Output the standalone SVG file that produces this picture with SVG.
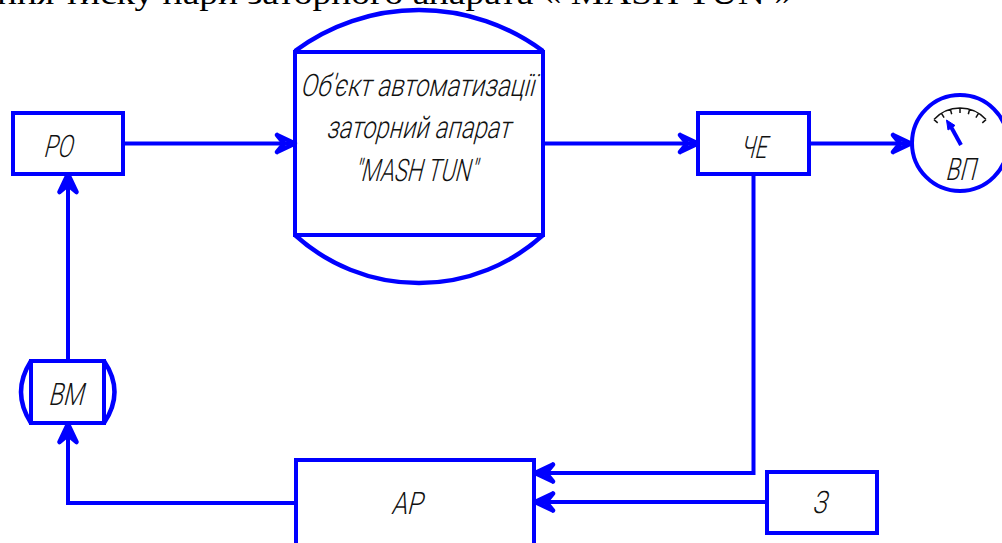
<svg xmlns="http://www.w3.org/2000/svg" width="1002" height="543" viewBox="0 0 1002 543">
<defs>
<marker id="arr" markerUnits="userSpaceOnUse" markerWidth="28" markerHeight="24" refX="20" refY="12" orient="auto" overflow="visible">
<path d="M2 3.500 L20 12 L2 20.500 M2 3.500 L9 12 L2 20.500" fill="none" stroke="#0000ff" stroke-width="4.500" stroke-linecap="round" stroke-linejoin="round"/>
</marker>
</defs>
<style>
.s{fill:#fff;stroke:#0000ff;stroke-width:4}
.a{fill:none;stroke:#0000ff;stroke-width:4.500}
.l{fill:none;stroke:#0000ff;stroke-width:4;marker-end:url(#arr)}
.t{font-family:Roboto,"Liberation Sans",sans-serif;font-weight:300;font-size:31px;fill:#111;text-anchor:start}
.h{font-family:"Liberation Serif",serif;font-size:32px;fill:#000}
</style>
<rect width="1002" height="543" fill="#fff"/>
<text class="h" x="-3" y="4" textLength="796" lengthAdjust="spacingAndGlyphs">ння тиску пари заторного апарата « MASH TUN »</text>
<g id="connectors">
<path class="l" d="M123 143.500H295"/>
<path class="l" d="M543 143.500H698"/>
<path class="l" d="M809 143.500H911"/>
<path class="l" d="M753.500 174V473H535"/>
<path class="l" d="M767 502H535"/>
<path class="l" d="M296 503H68V424"/>
<path class="l" d="M68 361V174"/>
</g>
<g id="node-ro"><rect class="s" x="13" y="113" width="110" height="61"/><text class="t" transform="translate(43 157) skewX(-14)" textLength="29" lengthAdjust="spacingAndGlyphs">РО</text></g>
<g id="node-object"><path class="a" d="M295 51A208 208 0 0 1 543 51M295 235A184 184 0 0 0 543 235"/><rect class="s" style="fill:none" x="295" y="52" width="248" height="183"/>
<text class="t" transform="translate(300 96) skewX(-14)" textLength="234" lengthAdjust="spacingAndGlyphs">Об'єкт автоматизації</text>
<text class="t" transform="translate(326 138) skewX(-14)" textLength="184" lengthAdjust="spacingAndGlyphs">заторний апарат</text>
<text class="t" transform="translate(354 181) skewX(-14)" textLength="122" lengthAdjust="spacingAndGlyphs">"MASH TUN"</text></g>
<g id="node-che"><rect class="s" x="698" y="113" width="111" height="61"/><text class="t" transform="translate(740 158) skewX(-14)" textLength="26" lengthAdjust="spacingAndGlyphs">ЧЕ</text></g>
<g id="node-vp"><circle class="s" cx="960" cy="143" r="48"/>
<path d="M934 119.600A35 35 0 0 1 986 119.600M934 119.600L937.700 122.900M941.500 113.300L944.100 117.600M950.400 109.400L951.700 114.200M960 108V113M969.600 109.400L968.300 114.200M978.500 113.300L975.900 117.600M986 119.600L982.300 122.900" fill="none" stroke="#111" stroke-width="1.500"/>
<path d="M961 145L950 125" stroke="#0000ff" stroke-width="4" fill="none"/><path d="M946.500 120L955 125.500L948 130Z" fill="#0000ff" stroke="#0000ff"/>
<text class="t" transform="translate(945 180) skewX(-14)" textLength="30" lengthAdjust="spacingAndGlyphs">ВП</text></g>
<g id="node-vm"><rect class="s" x="31" y="361" width="73" height="62"/><path class="a" d="M31 361Q11 392 31 423M104 361Q125 392 104 423"/><text class="t" transform="translate(48 405) skewX(-14)" textLength="35" lengthAdjust="spacingAndGlyphs">ВМ</text></g>
<g id="node-ar"><rect class="s" x="296" y="460" width="238" height="100"/><text class="t" transform="translate(391 514) skewX(-14)" textLength="31" lengthAdjust="spacingAndGlyphs">АР</text></g>
<g id="node-z"><rect class="s" x="767" y="472" width="110" height="61"/><text class="t" transform="translate(812 513) skewX(-14)" textLength="14" lengthAdjust="spacingAndGlyphs">З</text></g>
</svg>
